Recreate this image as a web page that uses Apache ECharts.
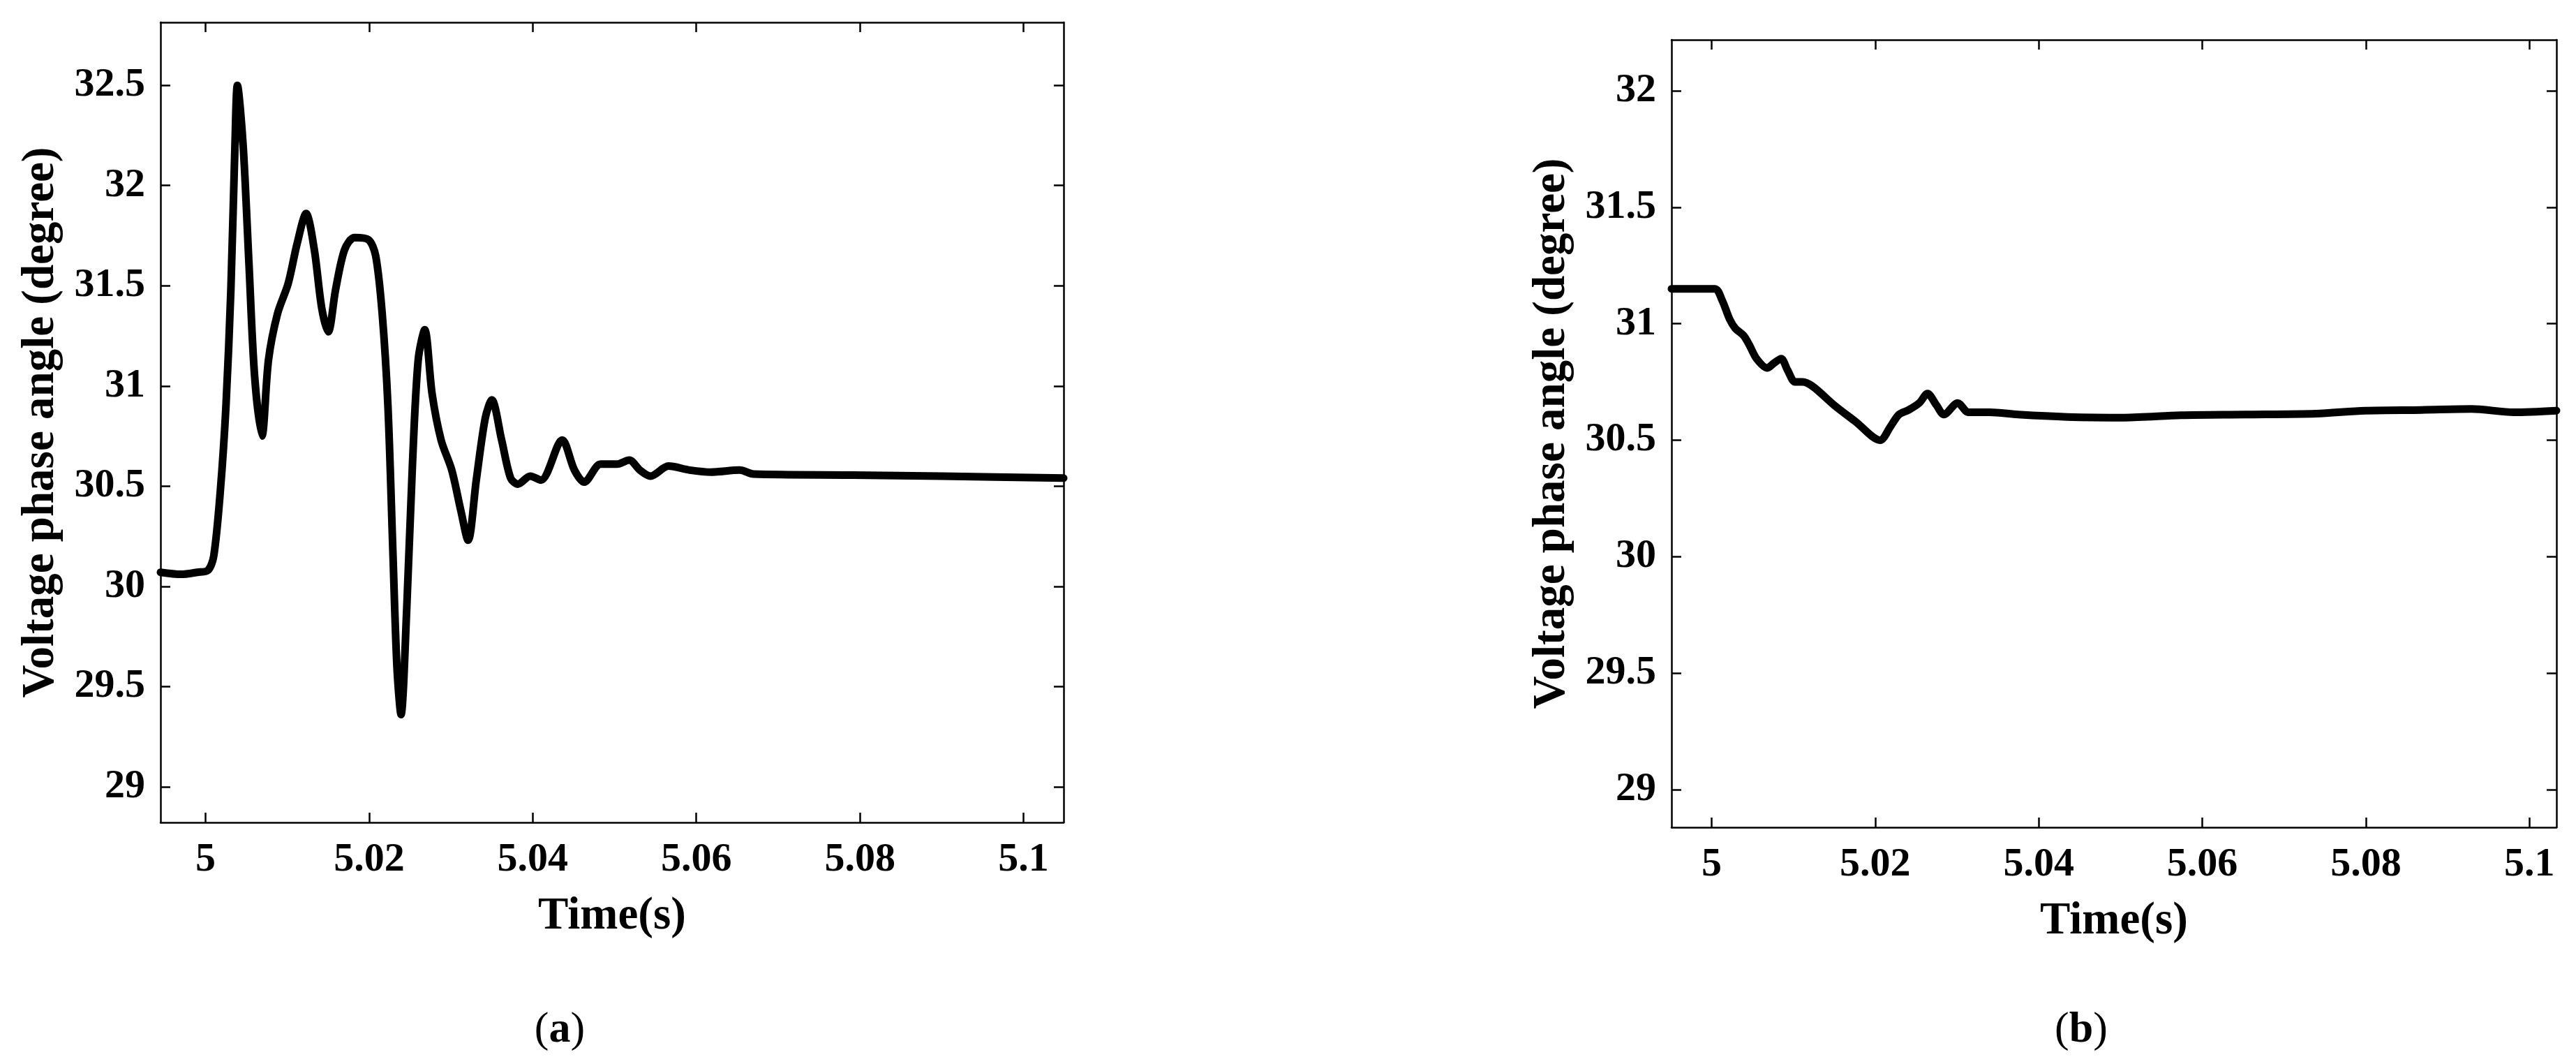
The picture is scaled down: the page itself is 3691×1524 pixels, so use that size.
<!DOCTYPE html>
<html>
<head>
<meta charset="utf-8">
<title>Voltage phase angle</title>
<script src="https://cdn.jsdelivr.net/npm/echarts@6/dist/echarts.min.js"></script>
<style>
  html, body { margin: 0; padding: 0; background: #fff; }
  #chart { width: 3691px; height: 1524px; }
</style>
</head>
<body>
<div id="chart"></div>
<script>
// tick positions / labels
const xTicks = [5, 5.02, 5.04, 5.06, 5.08, 5.1]
const yTicksA = [29, 29.5, 30, 30.5, 31, 31.5, 32, 32.5]
const yTicksB = [29, 29.5, 30, 30.5, 31, 31.5, 32]

// (a)
const timeA = [4.9945, 4.997, 4.999, 5.0003, 5.001, 5.0018, 5.0025, 5.0031, 5.0036, 5.0039,
  5.0046, 5.0053, 5.006, 5.0069, 5.0077, 5.0088, 5.0101, 5.0112, 5.0123, 5.0133,
  5.0142, 5.015, 5.0159, 5.017, 5.0182, 5.0199, 5.0208, 5.0216, 5.0223, 5.0229,
  5.0234, 5.0239, 5.0246, 5.0253, 5.026, 5.0268, 5.0277, 5.0288, 5.0301, 5.0312,
  5.0321, 5.0331, 5.0342, 5.035, 5.0362, 5.0373, 5.0382, 5.0397, 5.041, 5.0436,
  5.0451, 5.0463, 5.0483, 5.0503, 5.0518, 5.0531, 5.0544, 5.0566, 5.0592, 5.0618,
  5.0653, 5.067, 5.0792, 5.09, 5.1049]
const angleA = [30.07, 30.06, 30.07, 30.08, 30.15, 30.47, 30.90, 31.48, 32.20, 32.50,
  32.20, 31.62, 31.05, 30.75, 31.13, 31.36, 31.51, 31.71, 31.86, 31.68,
  31.39, 31.27, 31.48, 31.68, 31.74, 31.73, 31.65, 31.36, 30.90, 30.18,
  29.60, 29.36, 29.89, 30.61, 31.13, 31.28, 30.96, 30.73, 30.58, 30.38,
  30.23, 30.53, 30.84, 30.93, 30.73, 30.54, 30.51, 30.55, 30.53, 30.73,
  30.58, 30.52, 30.61, 30.61, 30.63, 30.58, 30.55, 30.60, 30.58, 30.57,
  30.58, 30.56, 30.555, 30.55, 30.54]

// (b)
const timeB = [4.9951, 5.0004, 5.0013, 5.0022, 5.0029, 5.0039, 5.0046, 5.0055, 5.0068, 5.0076,
  5.0085, 5.0093, 5.0102, 5.0111, 5.0124, 5.015, 5.0176, 5.0206, 5.0219, 5.0229,
  5.0241, 5.0254, 5.0264, 5.0275, 5.0284, 5.0301, 5.0314, 5.034, 5.0375, 5.0435,
  5.0505, 5.0574, 5.0652, 5.0739, 5.0799, 5.0868, 5.0929, 5.0981, 5.1033]
const angleB = [31.15, 31.15, 31.10, 31.02, 30.98, 30.95, 30.91, 30.85, 30.81, 30.83,
  30.85, 30.80, 30.75, 30.75, 30.73, 30.65, 30.58, 30.50, 30.56, 30.61,
  30.63, 30.66, 30.70, 30.65, 30.61, 30.66, 30.62, 30.62, 30.61, 30.60,
  30.597, 30.607, 30.61, 30.614, 30.627, 30.63, 30.634, 30.62, 30.627]

const FONT = "'Liberation Serif', 'Times New Roman', serif"
const tickStyle = { show: true, inside: true, length: 14, lineStyle: { color: '#000', width: 2.5 } }
const lineStyle = { show: true, lineStyle: { color: '#000', width: 2.5 } }
const labelStyle = { color: '#000', fontFamily: FONT, fontWeight: 'bold', fontSize: 58 }

const pairs = (xs, ys) => xs.map((x, i) => [x, ys[i]])

const makeX = (grid, min, max, mirror) => ({
  type: 'value',
  gridIndex: grid,
  position: mirror ? 'top' : 'bottom',
  min, max,
  name: mirror ? '' : 'Time(s)',
  nameLocation: 'middle',
  nameGap: 103,
  nameTextStyle: { color: '#000', fontFamily: FONT, fontWeight: 'bold', fontSize: 65 },
  axisLine: lineStyle,
  axisTick: Object.assign({ customValues: xTicks }, tickStyle),
  axisLabel: Object.assign({ show: !mirror, margin: 25, customValues: xTicks, formatter: v => String(v) }, labelStyle),
  splitLine: { show: false }
})

const makeY = (grid, min, max, ticks, mirror) => ({
  type: 'value',
  gridIndex: grid,
  position: mirror ? 'right' : 'left',
  min, max,
  name: mirror ? '' : 'Voltage phase angle (degree)',
  nameLocation: 'middle',
  nameGap: 138,
  nameTextStyle: { color: '#000', fontFamily: FONT, fontWeight: 'bold', fontSize: 65 },
  axisLine: lineStyle,
  axisTick: Object.assign({ customValues: ticks }, tickStyle),
  axisLabel: Object.assign({ show: !mirror, margin: 22, customValues: ticks, formatter: v => String(v) }, labelStyle),
  splitLine: { show: false }
})

const chart = echarts.init(document.getElementById('chart'), null, { renderer: 'canvas' })

const seriesLine = (xi, yi, data) => ({
  type: 'line',
  xAxisIndex: xi,
  yAxisIndex: yi,
  data,
  smooth: 0.3,
  showSymbol: false,
  lineStyle: { color: '#000', width: 11, cap: 'round', join: 'round' }
})

const panelTag = (letter, x) => ({
  text: '{p|(}{b|' + letter + '}{p|)}',
  left: x, top: 1440,
  textAlign: 'center',
  textStyle: { rich: {
    p: { fontFamily: FONT, fontSize: 62, fontWeight: 'normal', color: '#000' },
    b: { fontFamily: FONT, fontSize: 62, fontWeight: 'bold', color: '#000' }
  } }
})

chart.setOption({
  backgroundColor: '#fff',
  animation: false,
  title: [panelTag('a', 797), panelTag('b', 2977)],
  grid: [
    { left: 230, top: 32, width: 1294, height: 1146 },
    { left: 2395, top: 57, width: 1268, height: 1128 }
  ],
  xAxis: [
    makeX(0, 4.9945, 5.1049, false),
    makeX(0, 4.9945, 5.1049, true),
    makeX(1, 4.9951, 5.1033, false),
    makeX(1, 4.9951, 5.1033, true)
  ],
  yAxis: [
    makeY(0, 28.822, 32.814, yTicksA, false),
    makeY(0, 28.822, 32.814, yTicksA, true),
    makeY(1, 28.838, 32.219, yTicksB, false),
    makeY(1, 28.838, 32.219, yTicksB, true)
  ],
  series: [
    seriesLine(0, 0, pairs(timeA, angleA)),
    seriesLine(2, 2, pairs(timeB, angleB))
  ]
})
</script>
</body>
</html>
